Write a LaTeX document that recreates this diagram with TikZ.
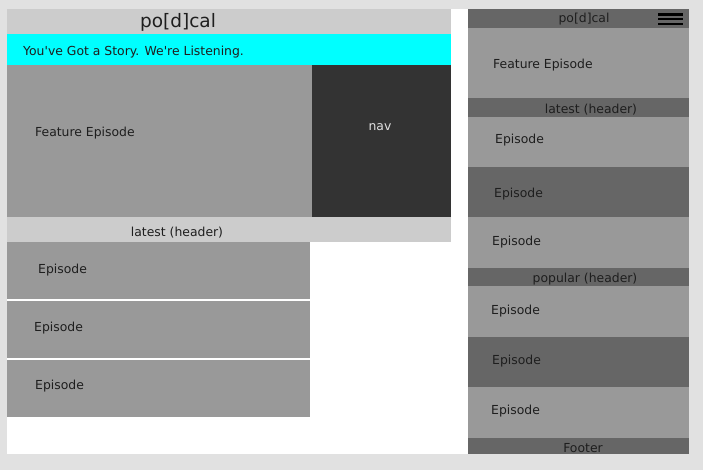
\documentclass[tikz,border=0pt]{standalone}
\usepackage{fontspec}
\setmainfont{DejaVu Sans}[Ligatures=TeXOff]
\definecolor{bgc}{HTML}{E1E1E1}
\definecolor{lightc}{HTML}{CCCCCC}
\definecolor{midc}{HTML}{999999}
\definecolor{darkc}{HTML}{666666}
\definecolor{navc}{HTML}{333333}
\definecolor{txtc}{HTML}{1E1E1E}
\definecolor{cyanc}{HTML}{00FFFF}
\tikzset{
  panel/.style={draw=none, anchor=north west, inner sep=0pt, outer sep=0pt},
  lbl/.style={inner sep=0pt, yshift=-1.8pt, text=txtc, font=\fontsize{12.4}{14}\selectfont},
  ttl/.style={inner sep=0pt, yshift=-1.8pt, text=txtc, font=\fontsize{18.5}{20}\selectfont},
  bar/.style={fill=black, draw=none, inner sep=0pt, anchor=north west, minimum width=25.5pt, minimum height=2.4pt}
}
\begin{document}
\begin{tikzpicture}[x=1pt,y=-1pt]
\useasboundingbox (0,0) rectangle (703,470);
\fill[bgc] (0,0) rectangle (703,470);
\fill[white] (7,9) rectangle (468,454);
% ---------- desktop layout ----------
\node[panel, fill=lightc, minimum width=444pt, minimum height=25pt] (dhead) at (7,9) {};
\node[ttl] (dtitle) at (178,21) {po[d]cal};
\node[panel, fill=cyanc, minimum width=444pt, minimum height=31.5pt] (dhero) at (7,34) {};
\node[lbl, anchor=west] (dherot) at (23,50) {You've Got a Story. We're Listening.};
\node[panel, fill=midc, minimum width=305pt, minimum height=151.5pt] (dfeat) at (7,65.5) {};
\node[lbl, anchor=west] (dfeatt) at (35,131.5) {Feature Episode};
\node[panel, fill=navc, minimum width=139pt, minimum height=151.5pt] (dnav) at (312,65.5) {};
\node[lbl, text=white!88!black] (dnavt) at (380,125) {nav};
\node[panel, fill=lightc, minimum width=444pt, minimum height=25pt] (dlatest) at (7,217) {};
\node[lbl] (dlatestt) at (177,230.5) {latest (header)};
\node[panel, fill=midc, minimum width=303pt, minimum height=57pt] (dep1) at (7,242) {};
\node[lbl, anchor=west] (dep1t) at (38,268) {Episode};
\node[panel, fill=midc, minimum width=303pt, minimum height=57pt] (dep2) at (7,301) {};
\node[lbl, anchor=west] (dep2t) at (34,326) {Episode};
\node[panel, fill=midc, minimum width=303pt, minimum height=57pt] (dep3) at (7,360) {};
\node[lbl, anchor=west] (dep3t) at (35,384.5) {Episode};
% ---------- mobile layout ----------
\node[panel, fill=darkc, minimum width=221pt, minimum height=19pt] (mhead) at (468,9) {};
\node[lbl] (mtitle) at (584,17.5) {po[d]cal};
\node[bar] (hb1) at (657.7,13) {};
\node[bar] (hb2) at (657.7,17.8) {};
\node[bar] (hb3) at (657.7,22.6) {};
\node[panel, fill=midc, minimum width=221pt, minimum height=70.5pt] (mfeat) at (468,28) {};
\node[lbl, anchor=west] (mfeatt) at (493,63.5) {Feature Episode};
\node[panel, fill=darkc, minimum width=221pt, minimum height=18.5pt] (mlatest) at (468,98.5) {};
\node[lbl] (mlatestt) at (591,107.5) {latest (header)};
\node[panel, fill=midc, minimum width=221pt, minimum height=50.5pt] (mep1) at (468,117) {};
\node[lbl, anchor=west] (mep1t) at (495,138.5) {Episode};
\node[panel, fill=darkc, minimum width=221pt, minimum height=50pt] (mep2) at (468,167.5) {};
\node[lbl, anchor=west] (mep2t) at (494,192.5) {Episode};
\node[panel, fill=midc, minimum width=221pt, minimum height=50.5pt] (mep3) at (468,217.5) {};
\node[lbl, anchor=west] (mep3t) at (492,240) {Episode};
\node[panel, fill=darkc, minimum width=221pt, minimum height=18pt] (mpop) at (468,268) {};
\node[lbl] (mpopt) at (585,277.5) {popular (header)};
\node[panel, fill=midc, minimum width=221pt, minimum height=51pt] (mep4) at (468,286) {};
\node[lbl, anchor=west] (mep4t) at (491,309) {Episode};
\node[panel, fill=darkc, minimum width=221pt, minimum height=50pt] (mep5) at (468,337) {};
\node[lbl, anchor=west] (mep5t) at (492,359.5) {Episode};
\node[panel, fill=midc, minimum width=221pt, minimum height=51pt] (mep6) at (468,387) {};
\node[lbl, anchor=west] (mep6t) at (491,409.5) {Episode};
\node[panel, fill=darkc, minimum width=221pt, minimum height=16pt] (mfoot) at (468,438) {};
\node[lbl] (mfoott) at (583,446.5) {Footer};
\end{tikzpicture}
\end{document}
